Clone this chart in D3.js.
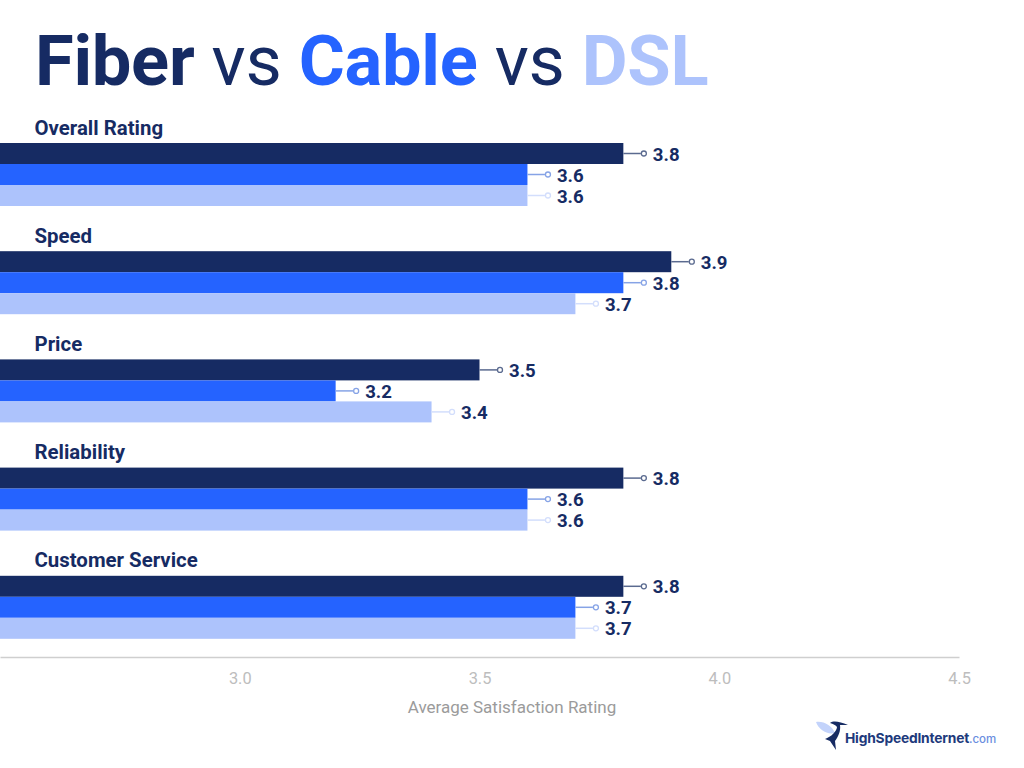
<!DOCTYPE html>
<html><head><meta charset="utf-8">
<script src="https://cdn.jsdelivr.net/npm/d3@7"></script>
<style>html,body{margin:0;padding:0;background:#fff}svg{display:block}text{font-family:Roboto,sans-serif}</style>
</head><body><svg id="c" width="1024" height="768"></svg>
<script>
const categories=["Overall Rating","Speed","Price","Reliability","Customer Service"];
const seriesNames=["Fiber","Cable","DSL"];
const fiber=[3.8,3.9,3.5,3.8,3.8];
const cable=[3.6,3.8,3.2,3.6,3.7];
const dsl=[3.6,3.7,3.4,3.6,3.7];
const tickValues=[3.0,3.5,4.0,4.5];
const colors=["#162b63","#2563ff","#adc3fc"];
const lineColors=["#5a6a8f","#86a3e6","#d3defc"];
const navy="#162b63";
const svg=d3.select("#c");
const x=d3.scaleLinear().domain([2.5,4.5]).range([0,959]);
const y=d3.scaleBand().domain(categories).range([143,143+108.2*5]).paddingInner(0);
const rows=[fiber,cable,dsl];
const inner=d3.scaleBand().domain(seriesNames).range([0,63]);
// title
const t=svg.append("text").attr("x",35).attr("y",85).attr("font-size",70.5).attr("letter-spacing",-0.3);
[["Fiber",navy,700],[" vs ",navy,400],["Cable",colors[1],700],[" vs ",navy,400],["DSL",colors[2],700]].forEach(d=>{
 t.append("tspan").attr("fill",d[1]).attr("font-weight",d[2]).style("white-space","pre").text(d[0]);
});
// category labels
svg.selectAll(".cat").data(categories).join("text").attr("class","cat")
 .attr("x",34.5).attr("y",c=>y(c)-8.5).attr("font-size",20.4).attr("font-weight",700).attr("fill",navy).text(c=>c);
// bars
seriesNames.forEach((s,si)=>{
 const g=svg.append("g");
 const data=categories.map((c,i)=>({c,v:rows[si][i]}));
 const cy=d=>y(d.c)+inner(s)+inner.bandwidth()/2;
 g.selectAll("rect").data(data).join("rect").attr("x",0).attr("y",d=>y(d.c)+inner(s))
  .attr("width",d=>x(d.v)).attr("height",inner.bandwidth()).attr("fill",colors[si]);
 g.selectAll("line").data(data).join("line").attr("x1",d=>x(d.v)).attr("x2",d=>x(d.v)+17.5)
  .attr("y1",cy).attr("y2",cy).attr("stroke",lineColors[si]).attr("stroke-width",1.5);
 g.selectAll("circle").data(data).join("circle").attr("cx",d=>x(d.v)+20.5).attr("cy",cy)
  .attr("r",2.5).attr("fill","#fff").attr("stroke",lineColors[si]).attr("stroke-width",1.3);
 g.selectAll("text").data(data).join("text").attr("x",d=>x(d.v)+29.5).attr("y",d=>cy(d)+7)
  .attr("font-size",18.6).attr("font-weight",700).attr("fill",navy).text(d=>d.v.toFixed(1));
});
// axis
const ax=svg.append("g").attr("transform","translate(0,657)").call(d3.axisBottom(x).tickValues(tickValues).tickSize(0).tickPadding(15).tickFormat(d3.format(".1f")));
ax.select(".domain").attr("stroke","#cfcfcf").attr("stroke-width",1.5);
ax.selectAll("text").attr("font-size",16.4).attr("fill","#bdbdbd").style("font-family","Roboto,sans-serif");
svg.append("text").attr("x",512).attr("y",713).attr("text-anchor","middle").attr("font-size",17).attr("fill","#9b9b9b").text("Average Satisfaction Rating");
// logo
const logo=svg.append("g");
logo.append("path").attr("d","M816 722 C824 721 831 725 835 733 C827 735 819 730 816 722Z").attr("fill","#c3d3fb");
logo.append("path").attr("d","M830 723 C834 720 840 722 848 725 L840 725 C841 731 838 737 835 741 L836 750 L830 741 L825 739 C831 737 837 731 837 727 C836 725 833 724 830 723Z").attr("fill",navy);
const lt=logo.append("text").attr("x",845).attr("y",743).style("font-family","Inter,sans-serif").attr("font-size",13.8);
lt.append("tspan").attr("fill","#1e3a7c").attr("font-weight",700).attr("letter-spacing",-0.2).text("HighSpeedInternet");
lt.append("tspan").attr("fill","#6a8ee0").attr("font-size",11.5).attr("font-weight",500).text(".com");
</script></body></html>
